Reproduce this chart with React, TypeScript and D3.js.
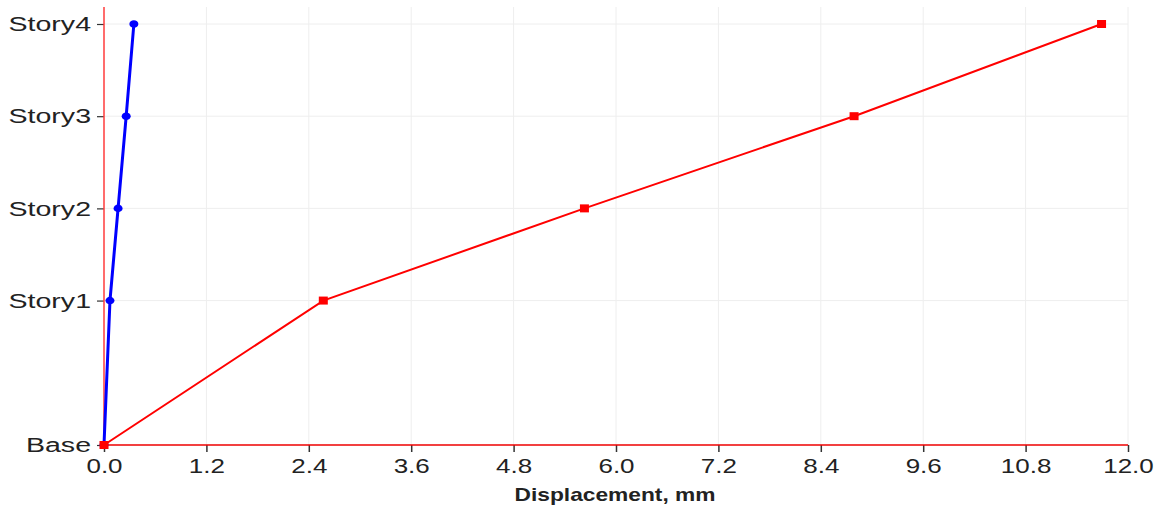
import React, { useEffect, useRef } from 'react';
import * as d3 from 'd3';

// story names and elevations (m)
const stories = ['Base', 'Story1', 'Story2', 'Story3', 'Story4'];
const elevations = [0, 4.7, 7.7, 10.7, 13.7];
// displacements, mm
const redSeries = [0, 2.57, 5.63, 8.79, 11.69];
const blueSeries = [0, 0.07, 0.165, 0.26, 0.35];
const xTicks = [0, 1.2, 2.4, 3.6, 4.8, 6.0, 7.2, 8.4, 9.6, 10.8, 12.0];

const W = 1162;
const H = 509;
const FONT = 'Liberation Sans, Arial, sans-serif';
const SX = 1.3; // text in the original is stretched sideways
const SY = 1.36;

export default function App() {
  const ref = useRef<SVGSVGElement>(null);

  useEffect(() => {
    const svg = d3.select(ref.current);
    svg.selectAll('*').remove();

    const x = d3.scaleLinear().domain([0, 12]).range([104, 1128]);
    const y = d3.scaleLinear().domain([0, 13.7]).range([445, 24]);
    const top = 7;

    // grid
    svg.append('g')
      .selectAll('line')
      .data(xTicks.slice(1))
      .enter()
      .append('line')
      .attr('x1', (d) => x(d)).attr('x2', (d) => x(d))
      .attr('y1', top).attr('y2', y(0))
      .style('stroke', '#eeeeee').style('stroke-width', 1);
    svg.append('g')
      .selectAll('line')
      .data(elevations.slice(1))
      .enter()
      .append('line')
      .attr('x1', x(0)).attr('x2', x(12))
      .attr('y1', (d) => y(d)).attr('y2', (d) => y(d))
      .style('stroke', '#eeeeee').style('stroke-width', 1);

    // x axis
    const xAxis = svg.append('g')
      .attr('transform', `translate(0, ${y(0)})`)
      .call(d3.axisBottom(x).tickValues(xTicks).tickFormat(d3.format('.1f')).tickSize(7).tickSizeOuter(0));
    xAxis.select('.domain').remove();
    xAxis.selectAll('.tick line').style('stroke', '#333').style('stroke-width', 1.5);
    xAxis.selectAll('.tick text')
      .attr('y', 28)
      .attr('dy', 0)
      .attr('transform', `scale(${SX},1)`)
      .style('font-family', FONT)
      .style('font-size', '20px')
      .style('fill', '#222');

    // y axis
    const yAxis = svg.append('g')
      .attr('transform', `translate(${x(0)}, 0)`)
      .call(d3.axisLeft(y).tickValues(elevations).tickFormat((d, i) => stories[i]).tickSize(7).tickSizeOuter(0));
    yAxis.select('.domain').remove();
    yAxis.selectAll('.tick line').style('stroke', '#333').style('stroke-width', 1.2);
    yAxis.selectAll('.tick text')
      .attr('x', -13 / SY)
      .attr('transform', `scale(${SY},1)`)
      .style('font-family', FONT)
      .style('font-size', '21px')
      .style('fill', '#222');

    // red axis lines
    svg.append('line')
      .attr('x1', x(0)).attr('x2', x(0)).attr('y1', top).attr('y2', y(0))
      .style('stroke', '#ff3b3b').style('stroke-width', 1.5);
    svg.append('line')
      .attr('x1', x(0)).attr('x2', x(12)).attr('y1', y(0)).attr('y2', y(0))
      .style('stroke', '#ee0000').style('stroke-width', 1.5);

    // x axis title
    svg.append('text')
      .attr('transform', `translate(615, 501) scale(${SX},1)`)
      .attr('text-anchor', 'middle')
      .style('font-family', FONT)
      .style('font-size', '17.5px')
      .style('font-weight', 'bold')
      .style('fill', '#222')
      .text('Displacement, mm');

    const line = d3.line<number>()
      .x((d) => x(d))
      .y((_, i) => y(elevations[i]));

    // blue series
    svg.append('path')
      .attr('d', line(blueSeries))
      .style('fill', 'none').style('stroke', '#0000ff').style('stroke-width', 3);
    svg.append('g')
      .selectAll('ellipse')
      .data(blueSeries)
      .enter()
      .append('ellipse')
      .attr('cx', (d) => x(d))
      .attr('cy', (_, i) => y(elevations[i]))
      .attr('rx', 4.5).attr('ry', 3.8)
      .style('fill', '#0000ff');

    // red series
    svg.append('path')
      .attr('d', line(redSeries))
      .style('fill', 'none').style('stroke', '#ff0000').style('stroke-width', 2);
    svg.append('g')
      .selectAll('rect')
      .data(redSeries)
      .enter()
      .append('rect')
      .attr('x', (d) => x(d) - 4.5)
      .attr('y', (_, i) => y(elevations[i]) - 4)
      .attr('width', 9).attr('height', 8)
      .style('fill', '#ff0000');
  }, []);

  return (
    <div style={{ position: 'fixed', left: 0, top: 0, background: '#fff' }}>
      <svg ref={ref} width={W} height={H} style={{ display: 'block' }} />
    </div>
  );
}
